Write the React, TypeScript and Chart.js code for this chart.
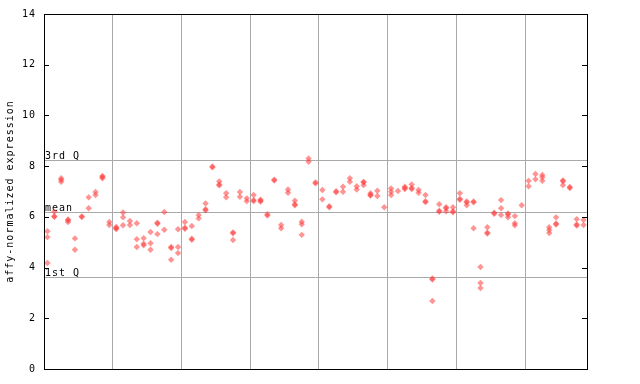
import React, { useEffect, useRef } from "react";
import { Chart, registerables } from "chart.js";

Chart.register(...registerables);

// Expression values per sample (up to three replicates each)
const replicate1: (number | null)[] = [
  5.43, 6.2, 7.52, 5.9, 5.15, 6.02, 6.77, 6.98, 7.61, 5.8,
  5.6, 6.17, 5.84, 5.75, 5.16, 5.4, 5.77, 6.19, 4.81, 5.51,
  5.8, 5.64, 6.07, 6.53, 7.99, 7.4, 6.93, 5.39, 6.98, 6.73,
  6.86, 6.68, 6.1, 7.47, 5.68, 7.08, 6.64, 5.81, 8.3, 7.36,
  7.06, 6.42, 7.01, 7.19, 7.52, 7.21, 7.38, 6.93, 7.03, 6.38,
  7.12, 7.02, 7.19, 7.28, 7.06, 6.86, 3.57, 6.5, 6.38, 6.38,
  6.93, 6.61, 6.61, 4.02, 5.59, 6.16, 6.66, 6.13, 6.03, 6.46,
  7.42, 7.69, 7.65, 5.59, 5.98, 7.44, 7.18, 5.91, 5.88,
];
const replicate2: (number | null)[] = [
  5.2, 6.02, 7.46, 5.86, 4.7, 5.99, 6.34, 6.86, 7.57, 5.68,
  5.55, 5.98, 5.68, 5.12, 4.94, 4.96, 5.73, 5.49, 4.77, 4.81,
  5.57, 5.14, 5.94, 6.3, 7.95, 7.28, 6.77, 5.35, 6.79, 6.62,
  6.66, 6.64, 6.05, 7.43, 5.55, 6.95, 6.5, 5.71, 8.17, 7.32,
  6.69, 6.38, 6.97, 6.99, 7.38, 7.08, 7.36, 6.86, 6.82, null,
  6.99, null, 7.14, 7.14, 6.95, 6.62, 3.53, 6.24, 6.34, 6.22,
  6.71, 6.57, 6.57, 3.39, 5.38, 6.12, 6.34, 6.09, 5.75, null,
  7.21, 7.48, 7.56, 5.48, 5.74, 7.4, 7.14, 5.7, 5.68,
];
const replicate3: (number | null)[] = [
  4.18, 6.0, 7.38, 5.8, null, null, null, null, 7.52, null,
  5.52, 5.67, null, 4.81, 4.88, 4.7, 5.32, null, 4.31, 4.57,
  5.53, 5.1, null, 6.26, null, 7.24, null, 5.09, null, null,
  6.62, 6.6, null, null, null, null, 6.46, 5.29, null, null,
  null, null, null, null, null, null, 7.25, 6.84, null, null,
  6.86, null, 7.1, 7.1, null, 6.58, 2.68, 6.2, 6.22, 6.18,
  6.67, 6.46, 5.55, 3.19, 5.34, null, 6.07, 5.98, 5.67, null,
  null, null, 7.42, 5.36, 5.7, 7.25, null, 5.66, null,
];

const yTicks = [0, 2, 4, 6, 8, 10, 12, 14];
const quartileLabels = ["1st Q", "mean", "3rd Q"];
const quartileValues = [3.63, 6.2, 8.24];
const groupBoundaries = [9.5, 19.5, 29.5, 39.5, 49.5, 59.5, 69.5];

const FONT = "'DejaVu Sans Mono', monospace";

function toPoints(arr: (number | null)[]) {
  const pts: { x: number; y: number }[] = [];
  arr.forEach((v, i) => {
    if (v !== null) pts.push({ x: i, y: v });
  });
  return pts;
}

export default function App() {
  const ref = useRef<HTMLCanvasElement | null>(null);

  useEffect(() => {
    document.body.style.margin = "0";
    document.body.style.overflow = "hidden";
    const canvas = ref.current;
    if (!canvas) return;

    const pointStyle = {
      pointStyle: "rectRot" as const,
      pointRadius: 3.2,
      pointBackgroundColor: "rgba(255,60,60,0.55)",
      pointBorderWidth: 0,
      pointBorderColor: "rgba(0,0,0,0)",
    };

    const overlay = {
      id: "overlay",
      beforeDraw(chart: any) {
        const ctx = chart.ctx;
        ctx.save();
        ctx.fillStyle = "#ffffff";
        ctx.fillRect(0, 0, chart.width, chart.height);
        ctx.restore();
        (ctx as any).letterSpacing = "1px";
      },
      beforeDatasetsDraw(chart: any) {
        const ctx = chart.ctx;
        const { left, right } = chart.chartArea;
        const y = chart.scales.y;
        ctx.save();
        ctx.strokeStyle = "#a9a9a9";
        ctx.lineWidth = 1;
        quartileValues.forEach((v, i) => {
          const py = Math.round(y.getPixelForValue(v)) + 0.5;
          ctx.beginPath();
          ctx.moveTo(left, py);
          ctx.lineTo(right, py);
          ctx.stroke();
          ctx.fillStyle = "#000";
          ctx.font = `10px ${FONT}`;
          ctx.textAlign = "left";
          ctx.textBaseline = "alphabetic";
          (ctx as any).letterSpacing = "1px";
          ctx.fillText(quartileLabels[i], left + 1, py - 2);
        });
        ctx.restore();
      },
      afterDatasetsDraw(chart: any) {
        const ctx = chart.ctx;
        const { left, right, top, bottom } = chart.chartArea;
        const y = chart.scales.y;
        ctx.save();
        ctx.strokeStyle = "#000";
        ctx.lineWidth = 1;
        ctx.strokeRect(Math.round(left) + 0.5, Math.round(top) + 0.5, Math.round(right - left), Math.round(bottom - top));
        yTicks.forEach((t) => {
          const py = Math.round(y.getPixelForValue(t)) + 0.5;
          ctx.beginPath();
          ctx.moveTo(left, py);
          ctx.lineTo(left + 5, py);
          ctx.moveTo(right - 5, py);
          ctx.lineTo(right, py);
          ctx.stroke();
        });
        ctx.restore();
      },
    };

    const chart = new Chart(canvas, {
      type: "scatter",
      data: {
        datasets: [
          { label: "rep1", data: toPoints(replicate1), ...pointStyle },
          { label: "rep2", data: toPoints(replicate2), ...pointStyle },
          { label: "rep3", data: toPoints(replicate3), ...pointStyle },
        ],
      },
      options: {
        responsive: false,
        animation: false,
        events: [],
        layout: { padding: { top: 13, left: 0, right: 0, bottom: 0 } },
        plugins: {
          legend: { display: false },
          tooltip: { enabled: false },
        },
        scales: {
          x: {
            type: "linear",
            min: -0.5,
            max: replicate1.length - 0.5,
            afterBuildTicks(scale: any) {
              scale.ticks = groupBoundaries.map((v) => ({ value: v }));
            },
            afterFit(scale: any) {
              scale.height = 15;
            },
            grid: { color: "#a9a9a9", lineWidth: 1, drawTicks: false },
            border: { display: false },
            ticks: { display: false },
          },
          y: {
            min: 0,
            max: 14,
            afterBuildTicks(scale: any) {
              scale.ticks = yTicks.map((v) => ({ value: v }));
            },
            afterFit(scale: any) {
              scale.width = 44;
            },
            grid: { display: false, drawTicks: false },
            border: { display: false },
            ticks: {
              color: "#000",
              padding: 8,
              font: { family: FONT, size: 10 },
            },
            title: {
              display: true,
              text: "affy-normalized expression",
              color: "#000",
              font: { family: FONT, size: 10 },
              padding: { top: 4, bottom: 0 },
            },
          },
          y2: {
            position: "right",
            min: 0,
            max: 14,
            afterFit(scale: any) {
              scale.width = 53;
            },
            grid: { display: false, drawTicks: false },
            border: { display: false },
            ticks: { display: false },
          },
        },
      },
      plugins: [overlay],
    } as any);

    return () => chart.destroy();
  }, []);

  return <canvas ref={ref} width={640} height={384} style={{ display: "block" }} />;
}
